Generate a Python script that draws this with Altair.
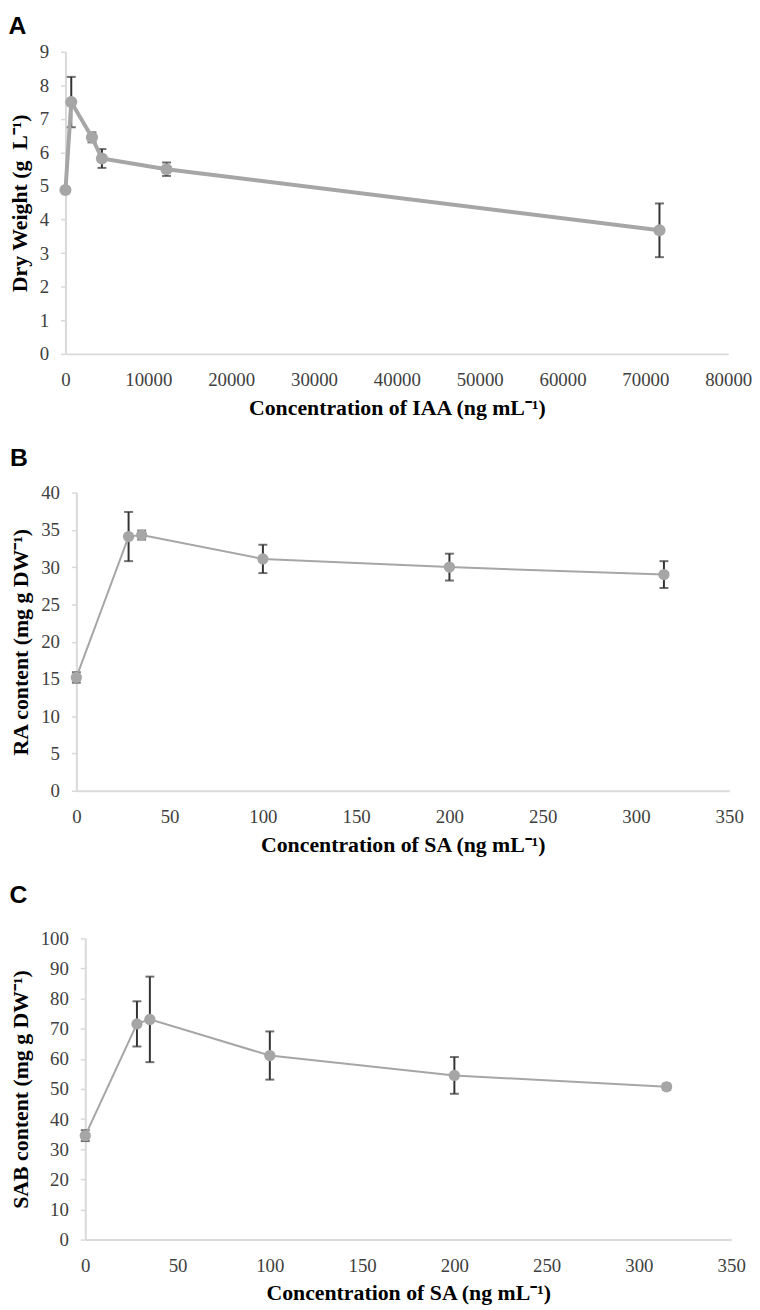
import altair as alt
import pandas as pd

# Panel A: IAA
iaa_conc = [0, 700, 3200, 4400, 12200, 71700]
dry_weight = [4.88, 7.5, 6.45, 5.82, 5.5, 3.68]
dry_weight_err = [0.08, 0.75, 0.15, 0.28, 0.2, 0.8]

# Panel B & C: SA
sa_conc = [0, 28, 35, 100, 200, 315]
ra_content = [15.2, 34.1, 34.3, 31.1, 30.0, 29.0]
ra_err = [0.7, 3.3, 0.6, 1.9, 1.8, 1.8]
sab_content = [34.5, 71.6, 73.1, 61.1, 54.5, 50.7]
sab_err = [1.8, 7.5, 14.2, 8.0, 6.1, 1.0]

SERIF = "Liberation Serif"
SANS = "Liberation Sans"
LINE_COLOR = "#a6a6a6"
ERR_COLOR = "#333333"


def panel(xs, ys, errs, letter, xtitle, ytitle, xdom, xstep, ydom, ystep,
          shift, width, height, line_w, msize, toff):
    df = pd.DataFrame({"x": xs, "y": ys, "e": errs})
    df["lo"] = df["y"] - df["e"]
    df["hi"] = df["y"] + df["e"]
    xscale = alt.Scale(domain=xdom, nice=False, zero=False,
                       range=[-shift, width])
    yscale = alt.Scale(domain=ydom, nice=False)
    xticks = list(range(xdom[0], xdom[1] + 1, xstep))
    yticks = list(range(ydom[0], ydom[1] + 1, ystep))
    xaxis = alt.Axis(title=xtitle, values=xticks, format="d", ticks=False,
                     grid=False, labelPadding=17, labelFlush=False)
    yaxis = alt.Axis(title=ytitle, values=yticks, format="d", ticks=True,
                     grid=False, labelPadding=12, offset=shift,
                     labelFlush=False)
    base = alt.Chart(df)
    x = alt.X("x:Q", scale=xscale, axis=xaxis)
    y = alt.Y("y:Q", scale=yscale, axis=yaxis)
    rule = base.mark_rule(color=ERR_COLOR, strokeWidth=2).encode(
        x=x, y=alt.Y("lo:Q", scale=yscale, axis=yaxis), y2="hi:Q")
    cap_lo = base.mark_tick(color=ERR_COLOR, orient="horizontal", size=9,
                            thickness=2).encode(
        x=x, y=alt.Y("lo:Q", scale=yscale, axis=yaxis))
    cap_hi = base.mark_tick(color=ERR_COLOR, orient="horizontal", size=9,
                            thickness=2).encode(
        x=x, y=alt.Y("hi:Q", scale=yscale, axis=yaxis))
    line = base.mark_line(color=LINE_COLOR, strokeWidth=line_w).encode(
        x=x, y=y)
    pts = base.mark_point(filled=True, color=LINE_COLOR, opacity=1,
                          size=msize, shape="circle").encode(x=x, y=y)
    return alt.layer(rule, cap_lo, cap_hi, line, pts).properties(
        width=width, height=height,
        title=alt.TitleParams(letter, anchor="start", frame="bounds",
                              font=SANS, fontSize=25, fontWeight="bold",
                              color="#000000", offset=toff),
    )


a = panel(iaa_conc, dry_weight, dry_weight_err, "A",
          "Concentration of IAA (ng mL⁻¹)", "Dry Weight (g\u00a0\u00a0L⁻¹)",
          [0, 80000], 10000, [0, 9], 1, 20, 649, 305, 4, 150, 4)
b = panel(sa_conc, ra_content, ra_err, "B",
          "Concentration of SA (ng mL⁻¹)", "RA content (mg g DW⁻¹)",
          [0, 350], 50, [0, 40], 5, 9, 650, 301, 2, 130, 13)
c = panel(sa_conc, sab_content, sab_err, "C",
          "Concentration of SA (ng mL⁻¹)", "SAB content (mg g DW⁻¹)",
          [0, 350], 50, [0, 100], 10, 0, 652, 304, 2, 130, 22)

chart = alt.vconcat(a, b, c, spacing=28).properties(padding=0).configure_view(
    stroke=None
).configure_axis(
    domainColor="#d9d9d9",
    domainWidth=2,
    tickColor="#d9d9d9",
    tickWidth=1.5,
    tickSize=5,
    labelFont=SERIF,
    labelFontSize=19,
    labelColor="#404040",
    titleFont=SERIF,
    titleFontSize=22,
    titleFontWeight="bold",
    titleColor="#000000",
    titlePadding=8,
)

chart.save("out.html", embed_options={"renderer": "svg", "actions": False})
